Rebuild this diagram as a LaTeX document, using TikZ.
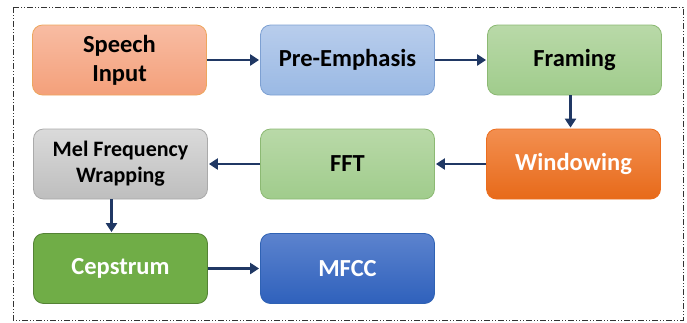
\documentclass[tikz,border=0pt]{standalone}
\usepackage{fontspec}
\setmainfont{Carlito}
\usetikzlibrary{arrows.meta}
\definecolor{arrowc}{HTML}{203864}
\tikzset{
  box/.style={rounded corners=10pt, minimum width=174pt, minimum height=70pt, align=center, inner sep=2pt,
    font=\fontsize{24.5}{29}\selectfont\bfseries, line width=0.8pt},
  conn/.style={draw=arrowc, line width=2.8pt, -{Triangle[length=9pt,width=11pt]}, shorten >=1pt},
}
\begin{document}
\begin{tikzpicture}[x=1pt,y=-1pt]
\useasboundingbox (0,0) rectangle (687,322);
\draw[line width=0.7pt, dash pattern=on 6pt off 2pt on 1pt off 2pt on 1pt off 2pt, black!80] (13,7) rectangle (683,320);
\node[box, draw=orange!60!brown!70, top color={rgb,255:red,248;green,188;blue,163}, bottom color={rgb,255:red,244;green,160;blue,122}] (speech) at (119.5,60) {Speech\\Input};
\node[box, draw={rgb,255:red,125;green,160;blue,210}, top color={rgb,255:red,184;green,205;blue,236}, bottom color={rgb,255:red,154;green,185;blue,228}] (pre) at (347.5,60) {Pre-Emphasis};
\node[box, draw={rgb,255:red,140;green,185;blue,115}, top color={rgb,255:red,185;green,217;blue,168}, bottom color={rgb,255:red,160;green,204;blue,140}] (framing) at (574.5,60) {Framing};
\node[box, draw={rgb,255:red,236;green,110;blue,30}, top color={rgb,255:red,243;green,143;blue,80}, bottom color={rgb,255:red,231;green,106;blue,26}, text=white] (win) at (573.5,164) {Windowing};
\node[box, draw={rgb,255:red,140;green,185;blue,115}, top color={rgb,255:red,185;green,217;blue,168}, bottom color={rgb,255:red,160;green,204;blue,140}] (fft) at (347.5,164) {FFT};
\node[box, draw={rgb,255:red,170;green,170;blue,170}, top color={rgb,255:red,218;green,218;blue,218}, bottom color={rgb,255:red,190;green,190;blue,190}, font=\fontsize{22}{26}\selectfont\bfseries] (mel) at (120.5,164) {Mel Frequency\\Wrapping};
\node[box, draw={rgb,255:red,84;green,130;blue,53}, fill={rgb,255:red,112;green,173;blue,71}, text=white] (cep) at (120.5,268.5) {Cepstrum};
\node[box, draw={rgb,255:red,47;green,98;blue,180}, top color={rgb,255:red,92;green,131;blue,206}, bottom color={rgb,255:red,47;green,97;blue,188}, text=white] (mfcc) at (347.5,268.5) {MFCC};
\draw[conn] (speech) -- (pre);
\draw[conn] (pre) -- (framing);
\draw[conn] ([xshift=-4pt]framing.south) -- ([xshift=-4pt]framing.south |- win.north);
\draw[conn] (win) -- (fft);
\draw[conn] (fft) -- (mel);
\draw[conn] ([xshift=-9pt]mel.south) -- ([xshift=-9pt]mel.south |- cep.north);
\draw[conn] (cep) -- (mfcc);
\end{tikzpicture}
\end{document}
